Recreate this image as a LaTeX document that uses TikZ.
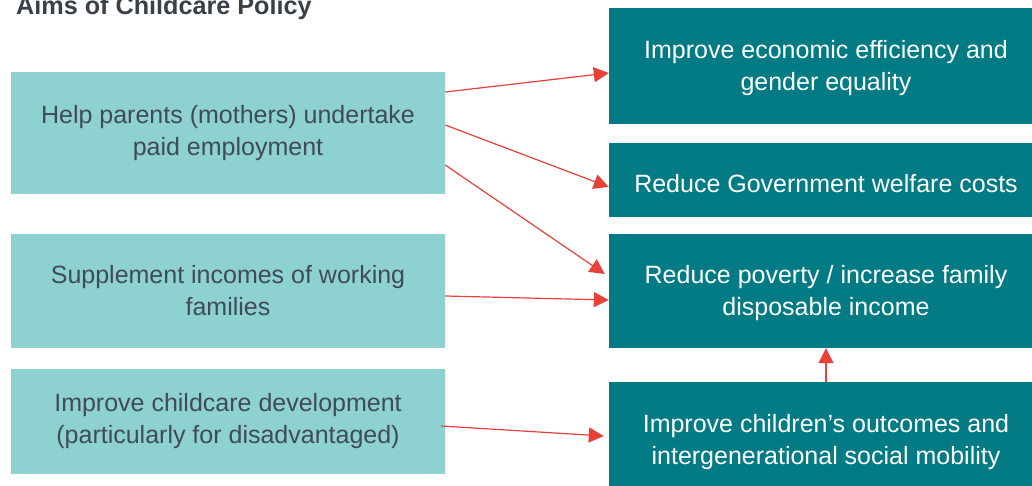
\documentclass[tikz,border=0pt]{standalone}
\usepackage{fontspec}
\setmainfont{Liberation Sans}
\usetikzlibrary{arrows.meta}
\definecolor{lteal}{HTML}{8DD1D1}
\definecolor{dteal}{HTML}{037B85}
\definecolor{arred}{HTML}{E8413A}
\definecolor{txtgray}{HTML}{404B55}
\definecolor{titlegray}{HTML}{3A4048}
\tikzset{
  box/.style={rectangle, inner sep=0pt, minimum width=434pt, align=center,
    font=\fontsize{25}{32}\selectfont},
  lbox/.style={box, fill=lteal, text=txtgray},
  rbox/.style={box, fill=dteal},
  rtext/.style={inner sep=0pt, align=center, text=white, font=\fontsize{25}{32}\selectfont},
  arr/.style={draw=arred, line width=1.2pt, -{Triangle[length=15pt,width=15pt]}}
}
\begin{document}
\begin{tikzpicture}[x=1pt,y=-1pt]
\useasboundingbox (0,0) rectangle (1032,486);
\clip (0,0) rectangle (1032,486);
\node[anchor=base west, font=\fontsize{25.2}{28}\selectfont\bfseries, text=titlegray, inner sep=0pt] (title) at (16,15) {Aims of Childcare Policy};
\node[lbox, minimum height=122pt] (l1) at (228,133) {Help parents (mothers) undertake\\paid employment};
\node[lbox, minimum height=114pt] (l2) at (228,291) {Supplement incomes of working\\families};
\node[lbox, minimum height=105pt] (l3) at (228,421.5) {Improve childcare development\\(particularly for disadvantaged)};
\node[rbox, minimum height=116pt] (r1) at (826,66) {};
\node[rbox, minimum height=74pt] (r2) at (826,180) {};
\node[rbox, minimum height=114pt] (r3) at (826,291) {};
\node[rbox, minimum height=116pt] (r4) at (826,440) {};
\node[rtext, yshift=-2.5pt] (r1t) at (r1) {Improve economic efficiency and\\gender equality};
\node[rtext, yshift=-4pt] (r2t) at (r2) {Reduce Government welfare costs};
\node[rtext, yshift=-2.5pt] (r3t) at (r3) {Reduce poverty / increase family\\disposable income};
\node[rtext, yshift=-2.5pt] (r4t) at (r4) {Improve children’s outcomes and\\intergenerational social mobility};
\draw[arr] ([yshift=41pt]l1.east) -- ([yshift=-7pt]r1.west);
\draw[arr] ([yshift=8pt]l1.east) -- ([yshift=-7pt]r2.west);
\draw[arr] ([yshift=-32pt]l1.east) -- ([xshift=-4pt,yshift=17pt]r3.west);
\draw[arr] ([yshift=-5pt]l2.east) -- ([yshift=-9pt]r3.west);
\draw[arr] ([xshift=-4pt,yshift=-4.5pt]l3.east) -- ([xshift=-5pt,yshift=4pt]r4.west);
\draw[arr] (r4.north) -- (r3.south);
\end{tikzpicture}
\end{document}
